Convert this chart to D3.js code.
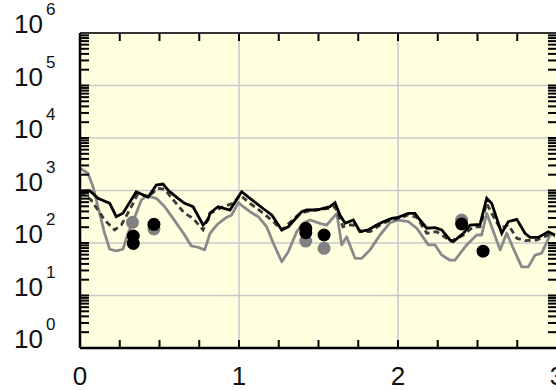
<!DOCTYPE html>
<html><head><meta charset="utf-8">
<script src="https://cdn.jsdelivr.net/npm/d3@7"></script>
<style>body{margin:0;background:#fff}svg{display:block}text{font-family:"Liberation Sans",Arial,sans-serif;fill:#111}</style>
</head><body>
<svg id="c" width="556" height="391"></svg>
<script>
const blackX = [0,0.061,0.113,0.187,0.228,0.270,0.354,0.428,0.480,0.522,0.553,0.616,0.658,0.711,0.774,0.805,0.818,0.868,0.943,1.017,1.069,1.164,1.206,1.269,1.310,1.394,1.426,1.489,1.572,1.604,1.635,1.667,1.719,1.761,1.813,1.866,1.908,1.960,2.002,2.065,2.107,2.138,2.181,2.233,2.275,2.327,2.348,2.411,2.453,2.516,2.558,2.589,2.652,2.694,2.747,2.799,2.830,2.882,2.945,2.987];
const blackY = [957,991,710,571,317,368,949,742,1273,1330,1023,710,571,491,220,274,373,491,425,949,710,425,341,177,204,394,425,425,491,586,341,237,274,164,177,220,255,295,309,368,368,274,191,196,177,114,106,153,220,227,710,571,153,255,283,153,128,128,164,142];

const grayX = [0,0.050,0.082,0.113,0.155,0.187,0.228,0.270,0.302,0.333,0.386,0.417,0.438,0.480,0.533,0.585,0.658,0.700,0.742,0.784,0.818,0.860,0.912,0.954,0.996,1.027,1.069,1.121,1.174,1.216,1.269,1.310,1.363,1.404,1.447,1.509,1.552,1.615,1.646,1.677,1.730,1.772,1.824,1.887,1.950,2.002,2.065,2.118,2.191,2.233,2.275,2.327,2.358,2.432,2.495,2.526,2.558,2.589,2.642,2.684,2.725,2.778,2.820,2.862,2.904,2.956,2.987];
const grayY = [2650,2128,1180,491,153,76,71,76,153,255,659,786,762,710,491,295,142,88,83,74,153,220,295,341,586,491,394,317,204,99,44,68,164,237,274,237,220,368,92,132,51,51,74,142,244,274,255,191,92,92,59,47,47,92,142,142,368,204,74,153,79,35,35,59,64,142,148];

const dashX = [0,0.069,0.113,0.155,0.218,0.260,0.323,0.365,0.428,0.491,0.533,0.596,0.658,0.711,0.774,0.818,0.901,0.964,1.006,1.069,1.153,1.216,1.269,1.384,1.467,1.572,1.604,1.654,1.686,1.717,1.772,1.824,1.887,1.950,2.000,2.063,2.118,2.181,2.243,2.306,2.327,2.411,2.474,2.516,2.558,2.589,2.642,2.694,2.747,2.799,2.872,2.945,2.987];
const dashY = [949,659,425,274,177,220,491,885,762,1101,1054,612,368,295,177,368,491,571,821,571,368,255,177,368,425,458,491,204,220,220,164,164,220,274,290,341,309,153,164,123,106,142,204,204,571,368,191,220,123,111,114,142,136];

const grayDotX = [0.330,0.465,1.420,1.535,2.400];
const grayDotY = [248,185,109,79,274];
const blackDotX = [0.335,0.335,0.465,1.420,1.420,1.535,2.400,2.535];
const blackDotY = [136,98,227,191,157,142,230,70];

const xTickLabels = ["0","1","2","3"];
const yExponents = [0,1,2,3,4,5,6];

const svg = d3.select("#c");
const L = 80, R = 557, T = 33, B = 348;
const x = d3.scaleLinear().domain([0,3]).range([L,R]);
const y = d3.scaleLog().domain([1,1e6]).range([B,T]);

svg.append("defs").append("clipPath").attr("id","clip")
  .append("rect").attr("x",L).attr("y",T).attr("width",R-L).attr("height",B-T);

svg.append("rect").attr("x",L).attr("y",T).attr("width",R-L).attr("height",B-T).attr("fill","#FFFFE0");

const grid = svg.append("g").attr("clip-path","url(#clip)");
grid.selectAll("line.gy").data(yExponents.slice(1,6)).join("line")
  .attr("x1",L).attr("x2",R).attr("y1",d=>y(Math.pow(10,d))).attr("y2",d=>y(Math.pow(10,d)))
  .attr("stroke","#c8c8c8").attr("stroke-width",1.5);
grid.selectAll("line.gx").data([1,2]).join("line")
  .attr("y1",T).attr("y2",B).attr("x1",d=>x(d)).attr("x2",d=>x(d))
  .attr("stroke","#c8c8c8").attr("stroke-width",1.5);

const plot = svg.append("g").attr("clip-path","url(#clip)");
const mk = (xs,ys)=>xs.map((v,i)=>[v,ys[i]]);
const line = d3.line().x(d=>x(d[0])).y(d=>y(d[1]));
plot.append("path").datum(mk(grayX,grayY)).attr("d",line).attr("fill","none").attr("stroke","#8a8a8a").attr("stroke-width",2.8).attr("stroke-linejoin","round");
plot.append("path").datum(mk(dashX,dashY)).attr("d",line).attr("fill","none").attr("stroke","#3a3a3a").attr("stroke-width",2.8).attr("stroke-dasharray","6,4");
plot.append("path").datum(mk(blackX,blackY)).attr("d",line).attr("fill","none").attr("stroke","#000").attr("stroke-width",2.8).attr("stroke-linejoin","miter");

plot.selectAll("circle.g").data(mk(grayDotX,grayDotY)).join("circle")
  .attr("cx",d=>x(d[0])).attr("cy",d=>y(d[1])).attr("r",6.5).attr("fill","#808080");
plot.selectAll("circle.b").data(mk(blackDotX,blackDotY)).join("circle")
  .attr("cx",d=>x(d[0])).attr("cy",d=>y(d[1])).attr("r",6.5).attr("fill","#000");

// ticks
const ax = svg.append("g").attr("stroke","#000").attr("stroke-width",2);
const minor = [];
yExponents.slice(0,6).forEach(e=>{ for(let k=2;k<=9;k++) minor.push(k*Math.pow(10,e)); });
const majors = yExponents.map(e=>Math.pow(10,e));
[...minor,...majors].forEach(v=>{
  ax.append("line").attr("x1",L).attr("x2",L+9).attr("y1",y(v)).attr("y2",y(v));
  ax.append("line").attr("x1",R-9).attr("x2",R).attr("y1",y(v)).attr("y2",y(v));
});
d3.range(0,13).map(i=>i*0.25).forEach(v=>{
  ax.append("line").attr("x1",x(v)).attr("x2",x(v)).attr("y1",B).attr("y2",B-8);
  ax.append("line").attr("x1",x(v)).attr("x2",x(v)).attr("y1",T).attr("y2",T+8);
});
svg.append("line").attr("x1",L).attr("x2",R).attr("y1",T).attr("y2",T).attr("stroke","#333").attr("stroke-width",2);
svg.append("line").attr("x1",L).attr("x2",R).attr("y1",B).attr("y2",B).attr("stroke","#000").attr("stroke-width",2.5);
svg.append("line").attr("x1",L).attr("x2",L).attr("y1",T).attr("y2",B).attr("stroke","#000").attr("stroke-width",2.5);

// labels
yExponents.forEach(e=>{
  svg.append("text").attr("x",43).attr("y",y(Math.pow(10,e))).attr("text-anchor","end").attr("font-size",26).text("10");
  svg.append("text").attr("x",46).attr("y",y(Math.pow(10,e))-18).attr("font-size",17).text(String(e));
});
xTickLabels.forEach((s,i)=>{
  svg.append("text").attr("x",x(i)).attr("y",385).attr("text-anchor","middle").attr("font-size",26).text(s);
});
</script>
</body></html>
